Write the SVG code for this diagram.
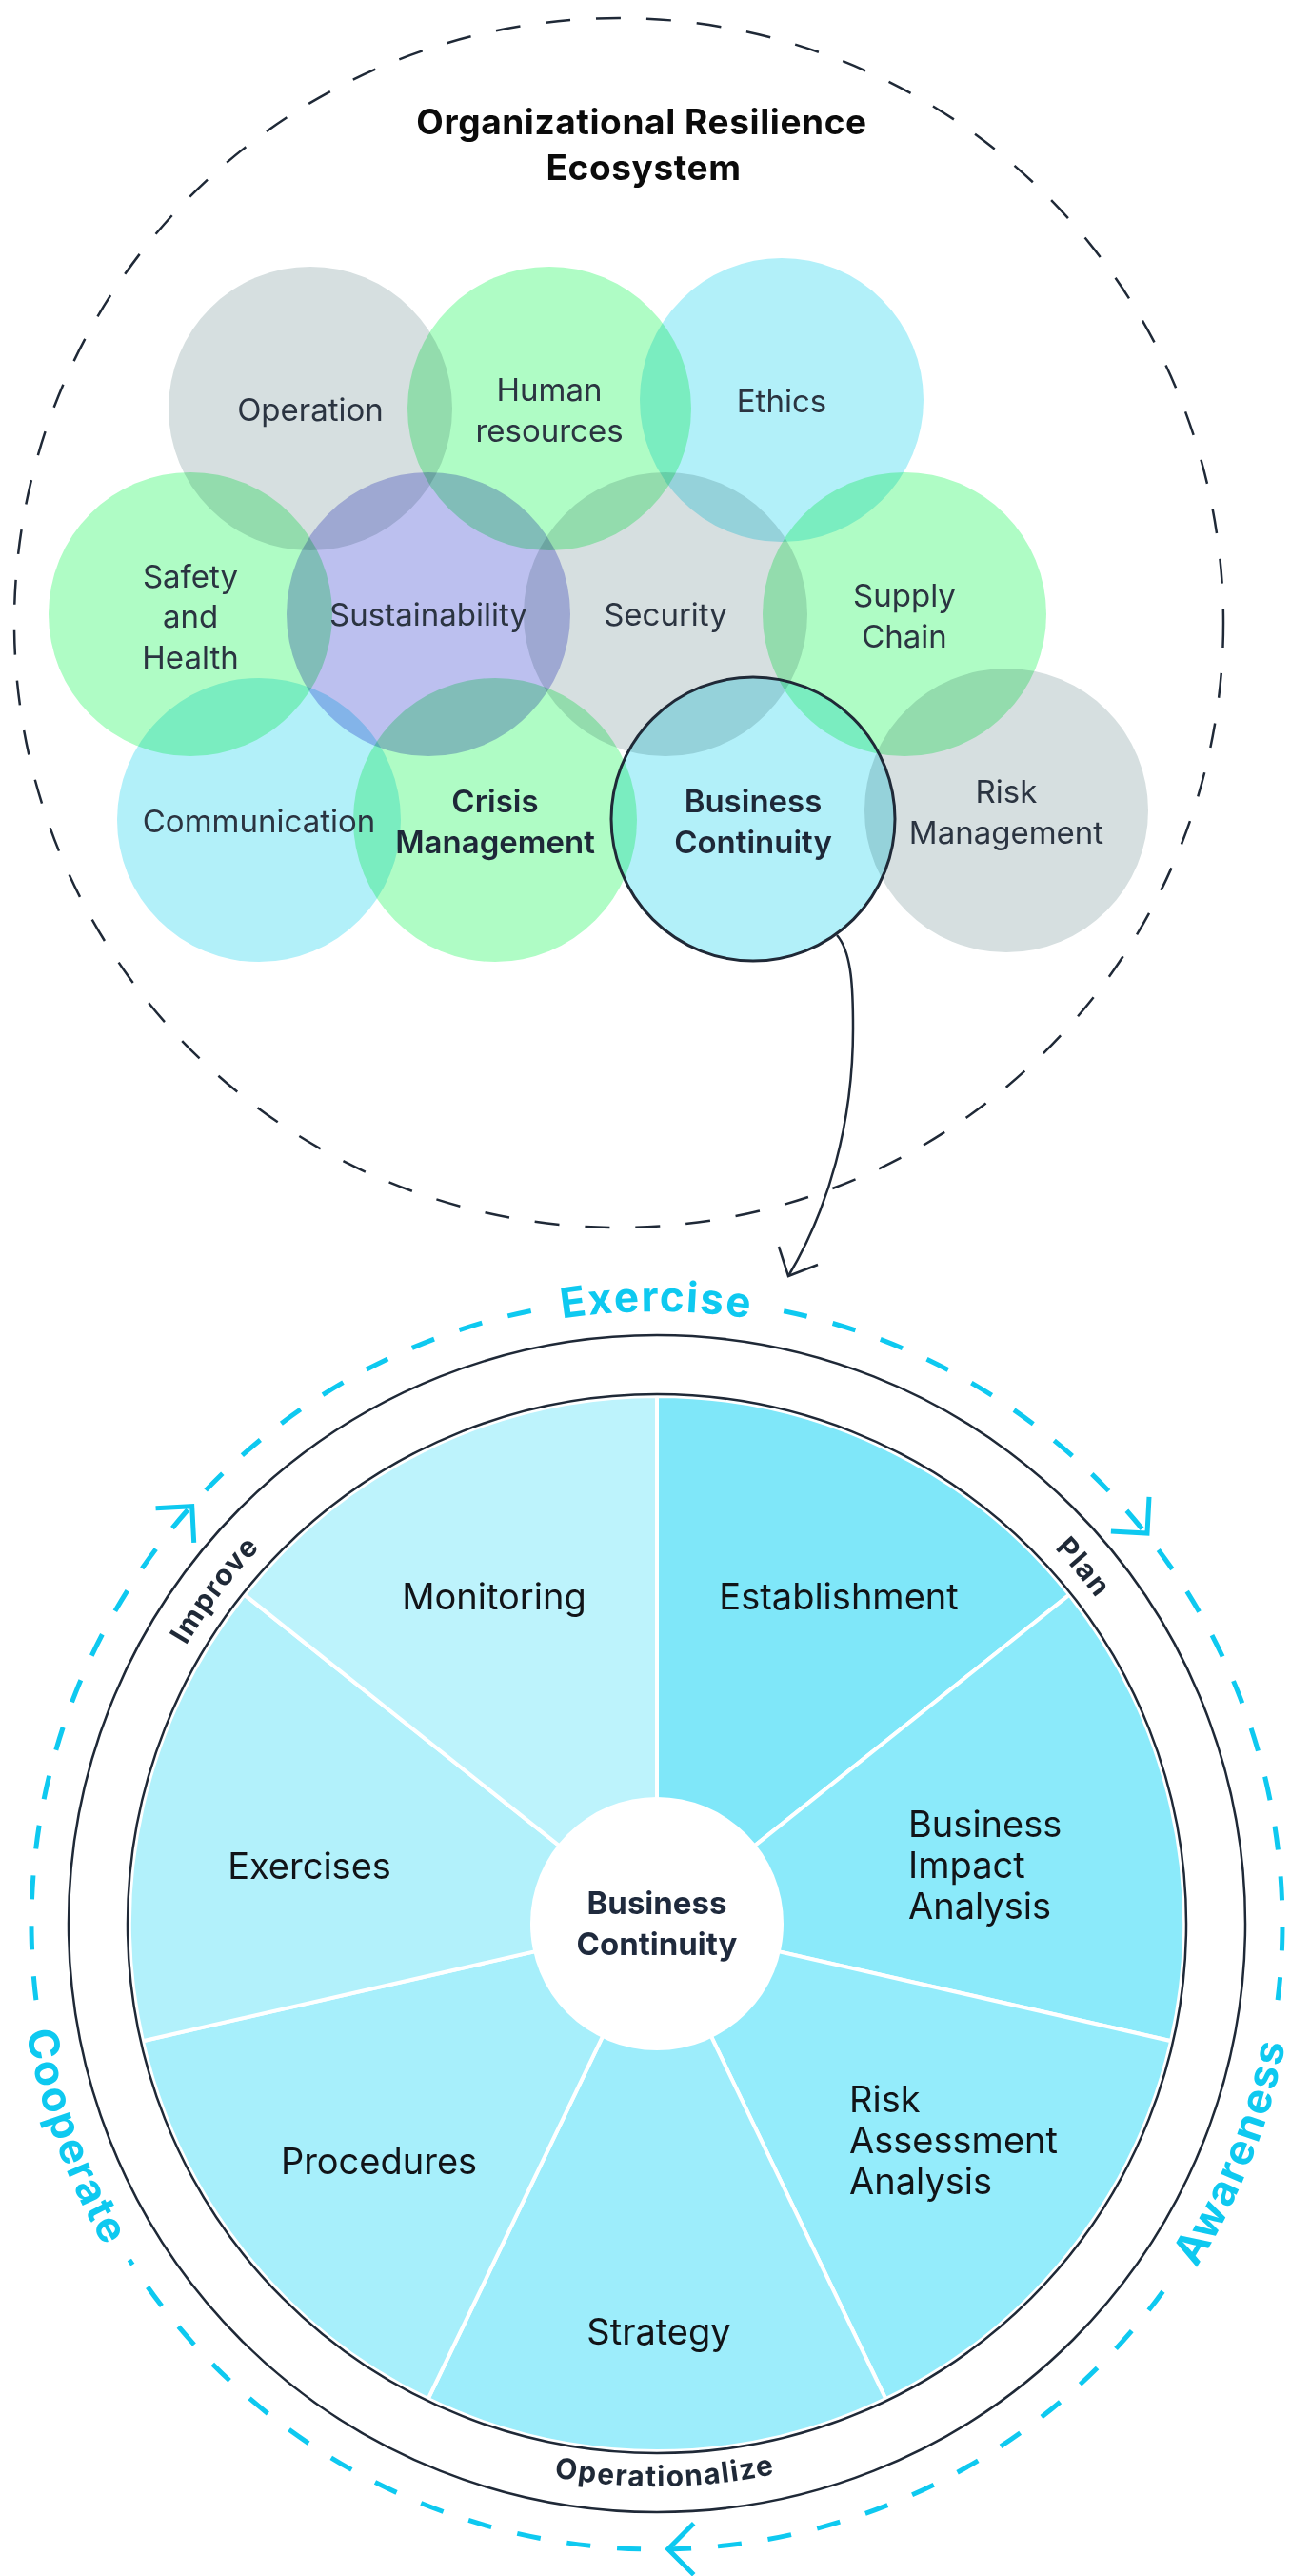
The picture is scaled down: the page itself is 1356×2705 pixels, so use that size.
<svg xmlns="http://www.w3.org/2000/svg" width="1356" height="2705" viewBox="0 0 1356 2705">
<defs>
<style>
text{font-family:Inter,"Liberation Sans",sans-serif;}
.lbl{font-size:33px;fill:#2b3441;text-anchor:middle;}
.lblb{font-size:33px;font-weight:600;fill:#1e2838;text-anchor:middle;}
.c{mix-blend-mode:multiply;}
.grey{fill:#d6dfe0;}
.green{fill:#affcc5;}
.blue{fill:#b2f0f9;}
.purple{fill:#bcc0ef;}
.seg{stroke:#ffffff;stroke-width:4;stroke-linejoin:round;}
.wl{font-size:38px;fill:#111418;}
.mid{text-anchor:middle;}
.ring{font-size:30px;font-weight:700;fill:#1f2937;letter-spacing:1.5px;}
.cy{font-size:44px;font-weight:700;fill:#0ec9f0;letter-spacing:2px;}
.dark{fill:none;stroke:#1f2937;stroke-width:2.5;}
.cyd{fill:none;stroke:#0ec9f0;stroke-width:5;stroke-dasharray:25 28;}
</style>
<path id="ringCW" d="M690,2594 A574,574 0 1 1 690,1446 A574,574 0 1 1 690,2594"/>
<path id="exCW" d="M690,2664 A643,643 0 1 1 690,1377 A643,643 0 1 1 690,2664"/>
<path id="ringCCW" d="M690,1429 A591,591 0 1 0 690,2611 A591,591 0 1 0 690,1429"/>
<path id="outerCCW" d="M690,1348 A672,672 0 1 0 690,2692 A672,672 0 1 0 690,1348"/>
<polyline id="chev" points="-27,-27 0,0 -27,27" fill="none" stroke="#0ec9f0" stroke-width="5"/>
</defs>
<rect width="1356" height="2705" fill="#ffffff"/>

<!-- Ecosystem boundary -->
<g id="ecosystem">
<circle cx="650" cy="654" r="635" fill="none" stroke="#1f2937" stroke-width="2.5" stroke-dasharray="26 27"/>
<text x="674" y="141" class="mid" style="font-size:37px;font-weight:700;fill:#0b0b0b;letter-spacing:0.6px">Organizational Resilience</text>
<text x="676" y="189" class="mid" style="font-size:37px;font-weight:700;fill:#0b0b0b;letter-spacing:0.6px">Ecosystem</text>
</g>

<!-- Circles -->
<g id="circles">
<circle id="c-operation" class="c grey" cx="326" cy="429" r="149"/>
<circle id="c-human" class="c green" cx="577" cy="429" r="149"/>
<circle id="c-ethics" class="c blue" cx="821" cy="420" r="149"/>
<circle id="c-safety" class="c green" cx="200" cy="645" r="149"/>
<circle id="c-sustain" class="c purple" cx="450" cy="645" r="149"/>
<circle id="c-security" class="c grey" cx="699" cy="645" r="149"/>
<circle id="c-supply" class="c green" cx="950" cy="645" r="149"/>
<circle id="c-comm" class="c blue" cx="272" cy="861" r="149"/>
<circle id="c-crisis" class="c green" cx="520" cy="861" r="149"/>
<circle id="c-bc" class="c blue" cx="791" cy="860" r="149"/>
<circle id="c-risk" class="c grey" cx="1057" cy="851" r="149"/>
<circle cx="791" cy="860" r="149" class="dark" style="stroke-width:3"/>
</g>

<g id="circle-labels">
<g id="n-operation"><text class="lbl" x="326" y="442">Operation</text></g>
<g id="n-human"><text class="lbl" x="577" y="421">Human</text><text class="lbl" x="577" y="464">resources</text></g>
<g id="n-ethics"><text class="lbl" x="821" y="433">Ethics</text></g>
<g id="n-safety"><text class="lbl" x="200" y="617">Safety</text><text class="lbl" x="200" y="659">and</text><text class="lbl" x="200" y="702">Health</text></g>
<g id="n-sustain"><text class="lbl" x="450" y="657">Sustainability</text></g>
<g id="n-security"><text class="lbl" x="699" y="657">Security</text></g>
<g id="n-supply"><text class="lbl" x="950" y="637">Supply</text><text class="lbl" x="950" y="680">Chain</text></g>
<g id="n-comm"><text class="lbl" x="272" y="874">Communication</text></g>
<g id="n-crisis"><text class="lblb" x="520" y="853">Crisis</text><text class="lblb" x="520" y="896">Management</text></g>
<g id="n-bc"><text class="lblb" x="791" y="853">Business</text><text class="lblb" x="791" y="896">Continuity</text></g>
<g id="n-risk"><text class="lbl" x="1057" y="843">Risk</text><text class="lbl" x="1057" y="886">Management</text></g>
</g>

<!-- Connectors -->
<g id="connectors">
<path d="M879,982 C895,1000 896,1040 896,1080 C896,1180 870,1270 828,1340" class="dark"/>
<polyline points="818,1309 828,1340 859,1328" class="dark" stroke-linejoin="miter"/>
</g>

<!-- Cycle -->
<g id="cycle">
<path class="cyd" d="M823.2,1376.7 A657,657 0 0 1 1342.1,2100.1"/>
<path class="cyd" d="M1221.5,2406.2 A657,657 0 0 1 135.9,2373"/>
<path class="cyd" d="M37.9,2100.1 A657,657 0 0 1 569.1,1374.2"/>
<use href="#chev" transform="translate(201.7,1581.7) rotate(-48)"/>
<use href="#chev" transform="translate(1205,1610) rotate(48)"/>
<use href="#chev" transform="translate(701.7,2676.7) rotate(180)"/>
<text class="cy"><textPath href="#exCW" startOffset="2021" text-anchor="middle">Exercise</textPath></text>
<text class="cy"><textPath href="#outerCCW" startOffset="2913" text-anchor="middle">Awareness</textPath></text>
<text class="cy"><textPath href="#outerCCW" startOffset="1291" text-anchor="middle">Cooperate</textPath></text>
</g>

<g id="outer-ring">
<circle cx="690" cy="2020" r="618" class="dark"/>
<text class="ring"><textPath href="#ringCW" startOffset="1273" text-anchor="middle">Improve</textPath></text>
<text class="ring"><textPath href="#ringCW" startOffset="2306" text-anchor="middle">Plan</textPath></text>
<text class="ring"><textPath href="#ringCCW" startOffset="1865" text-anchor="middle">Operationalize</textPath></text>
</g>

<!-- Wheel -->
<g id="wheel">
<g id="s-establishment"><path class="seg" fill="#7fe7f9" d="M690,2020 L690,1466 A554,554 0 0 1 1123.13,1674.59 Z"/><text class="wl mid" x="881" y="1690">Establishment</text></g>
<g id="s-bia"><path class="seg" fill="#8beafa" d="M690,2020 L1123.13,1674.59 A554,554 0 0 1 1230.11,2143.28 Z"/><text class="wl" x="954" y="1929">Business</text><text class="wl" x="954" y="1972">Impact</text><text class="wl" x="954" y="2015">Analysis</text></g>
<g id="s-risk"><path class="seg" fill="#94ecfb" d="M690,2020 L1230.11,2143.28 A554,554 0 0 1 930.37,2519.14 Z"/><text class="wl" x="892" y="2218">Risk</text><text class="wl" x="892" y="2261">Assessment</text><text class="wl" x="892" y="2304">Analysis</text></g>
<g id="s-strategy"><path class="seg" fill="#9dedfb" d="M690,2020 L930.37,2519.14 A554,554 0 0 1 449.63,2519.14 Z"/><text class="wl mid" x="692" y="2462">Strategy</text></g>
<g id="s-procedures"><path class="seg" fill="#a7effb" d="M690,2020 L449.63,2519.14 A554,554 0 0 1 149.89,2143.28 Z"/><text class="wl mid" x="398" y="2283">Procedures</text></g>
<g id="s-exercises"><path class="seg" fill="#b2f1fb" d="M690,2020 L149.89,2143.28 A554,554 0 0 1 256.87,1674.59 Z"/><text class="wl mid" x="325" y="1973">Exercises</text></g>
<g id="s-monitoring"><path class="seg" fill="#bdf3fc" d="M690,2020 L256.87,1674.59 A554,554 0 0 1 690,1466 Z"/><text class="wl mid" x="519" y="1690">Monitoring</text></g>
<circle cx="690" cy="2020" r="556" class="dark"/>
<g id="center-bc">
<circle cx="690" cy="2020" r="133" fill="#ffffff"/>
<text class="mid" x="690" y="2010" style="font-size:33px;font-weight:700;fill:#1f2a3d">Business</text>
<text class="mid" x="690" y="2053" style="font-size:33px;font-weight:700;fill:#1f2a3d">Continuity</text>
</g>
</g>
</svg>
